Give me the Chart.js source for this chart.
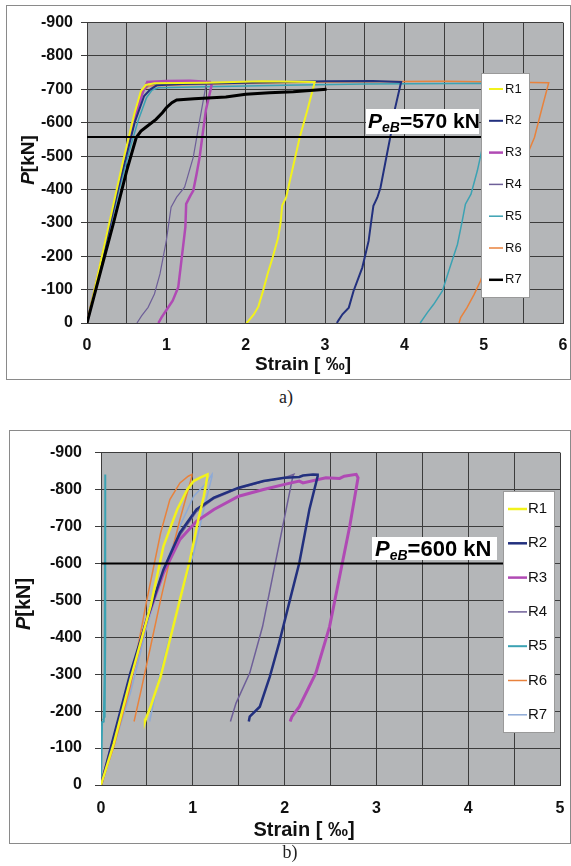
<!DOCTYPE html>
<html>
<head>
<meta charset="utf-8">
<script src="https://cdn.jsdelivr.net/npm/chart.js@4.4.0/dist/chart.umd.min.js"></script>
<style>
  html, body { margin: 0; padding: 0; background: #fff; }
  body { position: relative; width: 571px; height: 866px; overflow: hidden; }
  .frame { position: absolute; border: 1px solid #8a8a8a; box-sizing: border-box; }
  canvas { position: absolute; }
  .cap { position: absolute; font-family: "Liberation Serif", "Times New Roman", serif; font-size: 18px; color: #222; transform: translateX(-50%); }
</style>
</head>
<body>
<div class="frame" style="left:6px;top:5px;width:565px;height:375px"></div>
<canvas id="chartA" width="564" height="374" style="left:6px;top:5px"></canvas>
<div class="cap" style="left:286px;top:387px">a)</div>

<div class="frame" style="left:9px;top:430px;width:562px;height:414px"></div>
<canvas id="chartB" width="561" height="413" style="left:9px;top:430px"></canvas>
<div class="cap" style="left:290px;top:842px">b)</div>

<script>
const FONT = '"Liberation Sans", Arial, sans-serif';

const seriesNames = ['R1', 'R2', 'R3', 'R4', 'R5', 'R6', 'R7'];

// panel a) - [strain ‰, load kN]
const aR1 = [[0,0],[0.15,-160],[0.3,-320],[0.45,-480],[0.6,-630],[0.68,-695],[0.74,-713],[0.85,-718],[1.5,-720],[2.2,-724],[2.87,-722],[2.86,-712],[2.78,-640],[2.68,-555],[2.58,-450],[2.51,-376],[2.46,-352],[2.44,-300],[2.41,-256],[2.34,-196],[2.28,-150],[2.22,-97],[2.16,-49],[2.1,-25],[2.03,-5],[2.01,0]];
const aR2 = [[0,0],[0.2,-200],[0.4,-410],[0.6,-600],[0.72,-680],[0.8,-700],[0.88,-712],[1.2,-716],[2.0,-720],[3.0,-724],[3.6,-725],[3.96,-722],[3.95,-712],[3.88,-640],[3.83,-566],[3.76,-480],[3.7,-406],[3.66,-376],[3.61,-351],[3.58,-300],[3.55,-246],[3.47,-166],[3.36,-96],[3.3,-46],[3.22,-26],[3.17,-8],[3.15,0]];
const aR3 = [[0,0],[0.2,-205],[0.4,-415],[0.6,-610],[0.7,-690],[0.76,-722],[1.0,-725],[1.3,-726],[1.55,-722],[1.57,-712],[1.54,-680],[1.5,-640],[1.46,-570],[1.42,-497],[1.38,-445],[1.34,-397],[1.3,-380],[1.25,-357],[1.24,-287],[1.19,-187],[1.15,-107],[1.08,-67],[1.01,-42],[0.94,-17],[0.9,0]];
const aR4 = [[0,0],[0.2,-200],[0.4,-410],[0.6,-610],[0.72,-700],[0.78,-715],[1.1,-718],[1.5,-716],[1.5,-712],[1.42,-607],[1.34,-497],[1.23,-407],[1.13,-377],[1.06,-347],[1.0,-247],[0.92,-147],[0.85,-87],[0.77,-47],[0.69,-22],[0.63,0]];
const aR5 = [[0,0],[0.2,-195],[0.4,-395],[0.55,-530],[0.65,-610],[0.75,-675],[0.82,-698],[0.9,-705],[1.5,-708],[2.5,-712],[3.5,-716],[5.2,-718],[5.1,-640],[4.98,-521],[4.92,-456],[4.84,-386],[4.77,-356],[4.73,-306],[4.67,-236],[4.56,-156],[4.48,-96],[4.37,-56],[4.29,-31],[4.2,0]];
const aR6 = [[0,0],[0.2,-210],[0.4,-420],[0.6,-620],[0.7,-695],[0.78,-710],[1.2,-714],[2.0,-718],[3.0,-722],[4.5,-724],[5.82,-720],[5.72,-630],[5.64,-556],[5.4,-420],[5.15,-260],[4.96,-126],[4.88,-86],[4.79,-46],[4.71,-16],[4.69,0]];
const aR7 = [[0,0],[0.1,-90],[0.2,-180],[0.33,-296],[0.5,-456],[0.62,-555],[0.68,-575],[0.75,-588],[0.87,-610],[0.95,-630],[1.0,-645],[1.07,-660],[1.13,-668],[1.35,-672],[1.75,-677],[2.0,-685],[2.3,-690],[2.6,-693],[3.02,-700]];

// panel b) - [strain ‰, load kN]
const bR1 = [[0,0],[0.14,-113],[0.32,-285],[0.54,-484],[0.68,-646],[0.83,-746],[0.94,-800],[1.01,-823],[1.08,-832],[1.16,-841],[1.16,-836],[1.12,-782],[1.06,-719],[0.97,-610],[0.86,-502],[0.75,-393],[0.65,-294],[0.54,-212],[0.49,-180],[0.48,-172]];
const bR2 = [[0,0],[0.32,-303],[0.5,-448],[0.68,-583],[0.86,-683],[1.04,-746],[1.23,-778],[1.5,-805],[1.77,-823],[2.0,-832],[2.16,-834],[2.2,-838],[2.31,-841],[2.36,-840],[2.36,-836],[2.27,-746],[2.16,-601],[2.05,-493],[1.94,-384],[1.84,-294],[1.73,-212],[1.62,-185],[1.61,-172]];
const bR3 = [[0,0],[0.32,-285],[0.5,-448],[0.68,-574],[0.86,-665],[1.04,-714],[1.23,-746],[1.5,-782],[1.77,-800],[2.0,-814],[2.16,-823],[2.2,-818],[2.45,-832],[2.6,-830],[2.65,-836],[2.78,-841],[2.8,-832],[2.71,-701],[2.6,-565],[2.49,-429],[2.34,-303],[2.16,-212],[2.08,-185],[2.06,-172]];
const bR4 = [[0,0],[0.32,-295],[0.5,-455],[0.68,-580],[0.86,-676],[1.04,-740],[1.23,-775],[1.5,-803],[1.77,-822],[2.0,-832],[2.1,-841],[2.09,-836],[1.98,-701],[1.87,-565],[1.76,-429],[1.62,-303],[1.47,-221],[1.41,-172]];
const bR5 = [[0,0],[0.012,-170],[0.03,-172],[0.04,-300],[0.045,-700],[0.046,-841],[0.048,-700],[0.045,-400],[0.04,-185],[0.02,-175]];
const bR6 = [[0,0],[0.14,-104],[0.32,-267],[0.5,-502],[0.65,-683],[0.75,-773],[0.86,-818],[0.95,-836],[0.99,-841],[0.99,-836],[0.86,-719],[0.75,-610],[0.65,-502],[0.54,-375],[0.43,-249],[0.36,-172]];
const bR7 = [[0,0],[0.02,-10],[0.32,-249],[0.5,-429],[0.68,-583],[0.86,-701],[1.01,-782],[1.15,-818],[1.21,-841],[1.21,-836],[1.12,-746],[1.01,-628],[0.86,-502],[0.72,-375],[0.61,-267],[0.53,-172]];

// reference line P_eB
const peLineA = [[0,-557],[5.1,-557]];
const peLineB = [[0,-600],[4.5,-600]];
const peTextA = '=570 kN';
const peTextB = '=600 kN';

const loadMin = -900, loadMax = 0, loadStep = 100;
const strainMaxA = 6, strainMaxB = 5;

// styles
const colorsA = ['#f2f21c', '#22307e', '#b04ab4', '#6e5f98', '#3ba2b3', '#e8823c', '#000000'];
const colorsB = ['#f2f21c', '#22307e', '#b04ab4', '#6e5f98', '#3ba2b3', '#e8823c', '#8eaad6'];
const widthsA = [2, 2, 2.5, 1.2, 1.5, 1.5, 3];
const widthsB = [2.5, 2.5, 3, 1.5, 2, 1.5, 1.5];
const ordersA = [3, 4, 5, 6, 7, 8, 2];
const ordersB = [2, 3, 4, 5, 8, 6, 7];

function decor(o) {
    return {
        id: 'decor',
        beforeDraw(chart) {
            const { ctx, chartArea: a } = chart;
            ctx.save();
            ctx.fillStyle = '#b4b6b8';
            ctx.fillRect(a.left, a.top, a.right - a.left, a.bottom - a.top);
            ctx.restore();
        },
        afterDraw(chart) {
            const ctx = chart.ctx;
            ctx.save();
            ctx.fillStyle = '#111';
            ctx.textBaseline = 'middle';

            // y title  P[kN]
            ctx.save();
            ctx.translate(o.yTitle[0], o.yTitle[1]);
            ctx.rotate(-Math.PI / 2);
            ctx.font = 'italic bold ' + o.titleSize + 'px ' + FONT;
            const wP = ctx.measureText('P').width;
            ctx.font = 'bold ' + o.titleSize + 'px ' + FONT;
            const wK = ctx.measureText('[kN]').width;
            let x0 = -(wP + wK) / 2;
            ctx.textAlign = 'left';
            ctx.font = 'italic bold ' + o.titleSize + 'px ' + FONT;
            ctx.fillText('P', x0, 0);
            ctx.font = 'bold ' + o.titleSize + 'px ' + FONT;
            ctx.fillText('[kN]', x0 + wP, 0);
            ctx.restore();

            // x title
            ctx.font = 'bold ' + o.titleSize + 'px ' + FONT;
            ctx.textAlign = 'center';
            ctx.fillText('Strain [ ‰]', o.xTitle[0], o.xTitle[1]);

            // P_eB label
            const b = o.peBox;
            ctx.fillStyle = '#fff';
            ctx.fillRect(b[0], b[1], b[2] - b[0], b[3] - b[1]);
            ctx.fillStyle = '#000';
            ctx.textAlign = 'left';
            ctx.textBaseline = 'alphabetic';
            let tx = o.peText[0];
            ctx.font = 'italic bold ' + o.peSize + 'px ' + FONT;
            ctx.fillText('P', tx, o.peText[1]);
            tx += ctx.measureText('P').width;
            ctx.font = 'italic bold ' + o.peSub + 'px ' + FONT;
            ctx.fillText('eB', tx, o.peText[1] + 4);
            tx += ctx.measureText('eB').width;
            ctx.font = 'bold ' + o.peSize + 'px ' + FONT;
            ctx.fillText(o.peLabel, tx, o.peText[1]);

            // legend box
            const L = o.legend;
            ctx.fillStyle = '#fff';
            ctx.fillRect(L.box[0], L.box[1], L.box[2] - L.box[0], L.box[3] - L.box[1]);
            ctx.strokeStyle = '#9a9a9a';
            ctx.lineWidth = 1;
            ctx.strokeRect(L.box[0] + 0.5, L.box[1] + 0.5, L.box[2] - L.box[0], L.box[3] - L.box[1]);
            ctx.font = L.size + 'px ' + FONT;
            ctx.textBaseline = 'middle';
            chart.data.datasets.slice(0, seriesNames.length).forEach((ds, i) => {
                const y = L.y0 + i * L.dy;
                ctx.strokeStyle = ds.borderColor;
                ctx.lineWidth = Math.max(1.5, Math.min(ds.borderWidth, 2.5));
                ctx.beginPath();
                ctx.moveTo(L.line[0], y);
                ctx.lineTo(L.line[1], y);
                ctx.stroke();
                ctx.fillStyle = '#111';
                ctx.fillText(ds.label, L.textX, y);
            });
            ctx.restore();
        }
    };
}

function makeChart(id, sets, colors, widths, orders, peLine, xMax, o) {
    const datasets = seriesNames.map((name, i) => ({
        label: name,
        data: sets[i].map(p => ({ x: p[0], y: p[1] })),
        borderColor: colors[i],
        backgroundColor: colors[i],
        borderWidth: widths[i],
        showLine: true,
        pointRadius: 0,
        tension: 0,
        order: orders[i]
    }));
    datasets.push({
        label: 'PeB',
        data: peLine.map(p => ({ x: p[0], y: p[1] })),
        borderColor: '#000',
        borderWidth: 2,
        showLine: true,
        pointRadius: 0,
        order: 0
    });

    const tickFont = { family: FONT, size: 16, weight: 'bold' };

    return new Chart(document.getElementById(id), {
        type: 'scatter',
        data: { datasets: datasets },
        options: {
            responsive: false,
            animation: false,
            devicePixelRatio: 1,
            layout: { padding: { top: o.padTop, right: o.padRight, left: 0, bottom: 0 } },
            plugins: {
                legend: { display: false },
                tooltip: { enabled: false }
            },
            scales: {
                x: {
                    type: 'linear',
                    min: 0,
                    max: xMax,
                    afterFit: s => {
                        s.height = o.xH;
                        s.paddingLeft = 0;
                        s.paddingRight = 0;
                    },
                    ticks: {
                        stepSize: 0.5,
                        autoSkip: false,
                        maxRotation: 0,
                        padding: o.xPad,
                        color: '#111',
                        font: tickFont,
                        callback: v => Math.abs(v - Math.round(v)) < 1e-6 ? Math.round(v) : ''
                    },
                    grid: { color: '#3c3c3c', lineWidth: 1, drawTicks: false },
                    border: { display: true, color: '#3c3c3c' }
                },
                y: {
                    min: loadMin,
                    max: loadMax,
                    reverse: true,
                    afterFit: s => { s.width = o.yW; },
                    ticks: {
                        stepSize: loadStep,
                        padding: o.yPad,
                        color: '#111',
                        font: tickFont
                    },
                    grid: { color: '#3c3c3c', lineWidth: 1, tickLength: 6 },
                    border: { display: true, color: '#3c3c3c' }
                }
            }
        },
        plugins: [decor(o)]
    });
}

makeChart('chartA', [aR1, aR2, aR3, aR4, aR5, aR6, aR7], colorsA, widthsA, ordersA, peLineA, strainMaxA, {
    padTop: 16, padRight: 7, yW: 81, xH: 56, yPad: 8, xPad: 13,
    titleSize: 19, yTitle: [23, 155], xTitle: [297, 360],
    peBox: [360, 104, 473, 129], peText: [362, 123], peSize: 21, peSub: 14, peLabel: peTextA,
    legend: { box: [475, 68, 523, 292], y0: 84, dy: 31.8, line: [483, 497], textX: 499, size: 13 }
});

makeChart('chartB', [bR1, bR2, bR3, bR4, bR5, bR6, bR7], colorsB, widthsB, ordersB, peLineB, strainMaxB, {
    padTop: 22, padRight: 10, yW: 92, xH: 58, yPad: 13, xPad: 14,
    titleSize: 20, yTitle: [15, 174], xTitle: [295, 400],
    peBox: [363, 107, 488, 130], peText: [366, 126], peSize: 22, peSub: 14, peLabel: peTextB,
    legend: { box: [494, 61, 545, 302], y0: 79, dy: 34.3, line: [499, 518], textX: 519, size: 15 }
});
</script>
</body>
</html>
